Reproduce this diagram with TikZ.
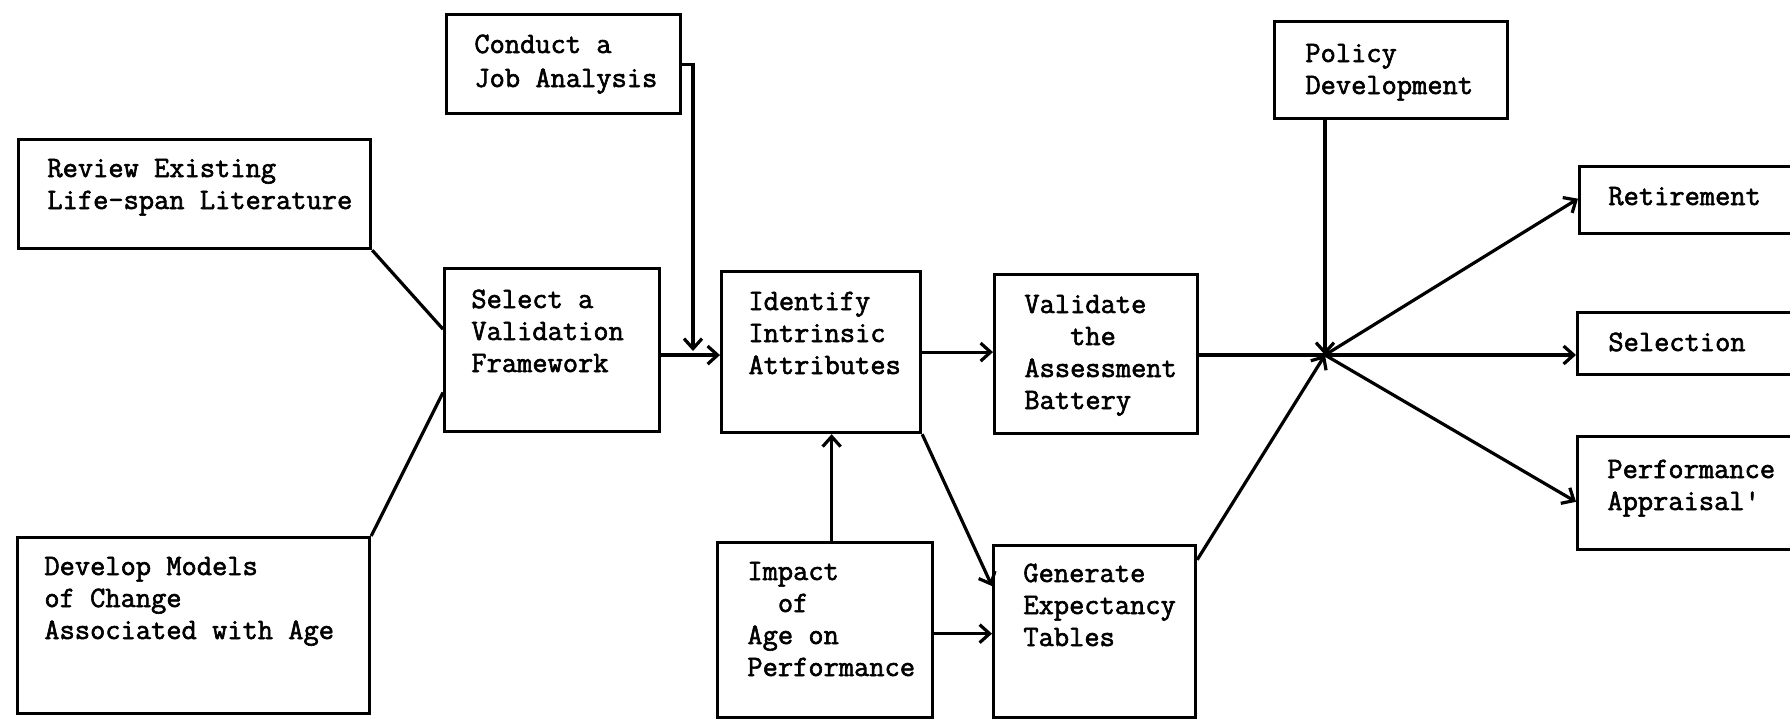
\documentclass[tikz,border=0pt]{standalone}
\usepackage{fontspec}
\usetikzlibrary{arrows.meta,calc}
\newfontfamily\twfont[FakeBold=2]{Latin Modern Mono}
\newcommand{\boxtext}[1]{\begin{tabular}[t]{@{}l@{}}#1\end{tabular}}
\tikzset{
  x=0.5pt, y=-0.5pt,
  box/.style={draw, line width=1.6pt, inner sep=0pt, anchor=north west},
  txt/.style={anchor=base west, inner sep=0pt, font=\twfont\fontsize{14.8}{16}\selectfont},
  txtw/.style={anchor=base west, inner sep=0pt, font=\twfont\fontsize{14.8}{17}\selectfont},
  conn/.style={line width=1.6pt},
  arr/.style={line width=1.6pt, -{Straight Barb[length=5pt,width=9pt,line width=1.6pt]}},
}
\begin{document}
\begin{tikzpicture}
\clip (0,0) rectangle (1790,719);
\fill[white] (0,0) rectangle (1790,719);
% boxes
\node[box, minimum width=117pt, minimum height=49.5pt] (conduct) at (445,13) {};
\node[box, minimum width=176pt, minimum height=54.5pt] (review) at (17,138) {};
\node[box, minimum width=107.5pt, minimum height=81.5pt] (select) at (443,267) {};
\node[box, minimum width=176pt, minimum height=88pt] (develop) at (16,536) {};
\node[box, minimum width=99.5pt, minimum height=80.5pt] (identify) at (720,270) {};
\node[box, minimum width=107.5pt, minimum height=87.5pt] (impact) at (716,541) {};
\node[box, minimum width=101.5pt, minimum height=79.5pt] (validate) at (993,273) {};
\node[box, minimum width=101pt, minimum height=86pt] (generate) at (992,544) {};
\node[box, minimum width=116.5pt, minimum height=48.5pt] (policy) at (1273,20) {};
\node[box, minimum width=116pt, minimum height=33.5pt] (retire) at (1578,165) {};
\node[box, minimum width=117pt, minimum height=31pt] (selection) at (1576,311) {};
\node[box, minimum width=117pt, minimum height=56.5pt] (perf) at (1576,435) {};
% texts
\node[txtw] (conduct-t) at (474,53) {\boxtext{Conduct a\\Job Analysis}};
\node[txt] (review-t) at (47,177) {\boxtext{Review Existing\\Life-span Literature}};
\node[txt] (select-t) at (471,308) {\boxtext{Select a\\Validation\\Framework}};
\node[txt] (develop-t) at (44,575) {\boxtext{Develop Models\\of Change\\Associated with Age}};
\node[txt] (identify-t) at (748,310) {\boxtext{Identify\\Intrinsic\\Attributes}};
\node[txt] (validate-t) at (1024,313) {\boxtext{Validate\\\phantom{Val}the\\Assessment\\Battery}};
\node[txt] (impact-t) at (747,580) {\boxtext{Impact\\\phantom{Im}of\\Age on\\Performance}};
\node[txt] (generate-t) at (1023,582) {\boxtext{Generate\\Expectancy\\Tables}};
\node[txt] (policy-t) at (1305,62) {\boxtext{Policy\\Development}};
\node[txt] (retire-t) at (1608,205) {Retirement};
\node[txt] (selection-t) at (1608,351) {Selection};
\node[txt] (perf-t) at (1607,478) {\boxtext{Performance\\Appraisal'}};
% junction points
\coordinate (j) at (1325,355);
\coordinate (cj) at (693,351);
% connectors
\draw[conn] (review.south east) -- ($(select.north west)!0.374!(select.south west)$);
\draw[conn] (develop.north east) -- ($(select.north west)!0.755!(select.south west)$);
\draw[arr] (conduct.east) -| (cj);
\coordinate (s1) at ($(select.north east)!0.53!(select.south east)$);
\draw[arr] (s1) -- (s1 -| identify.west);
\draw[arr] (identify.east) -- (identify.east -| validate.west);
\coordinate (i1) at ($(impact.north west)!0.53!(impact.north east)$);
\draw[arr] (i1) -- (i1 |- identify.south);
\draw[arr] (identify.south east) -- ($(generate.north west)!0.24!(generate.south west)$);
\coordinate (i2) at ($(impact.north east)!0.52!(impact.south east)$);
\draw[arr] (i2) -- (i2 -| generate.west);
\draw[conn] (validate.east |- j) -- (j);
\draw[arr] ($(generate.north east)!0.09!(generate.south east)$) -- (j);
\draw[arr] (j |- policy.south) -- (j);
\draw[arr] (j) -- ($(retire.north west)!0.48!(retire.south west)$);
\draw[arr] (j) -- (j -| selection.west);
\draw[arr] (j) -- ($(perf.north west)!0.575!(perf.south west)$);
\end{tikzpicture}
\end{document}
